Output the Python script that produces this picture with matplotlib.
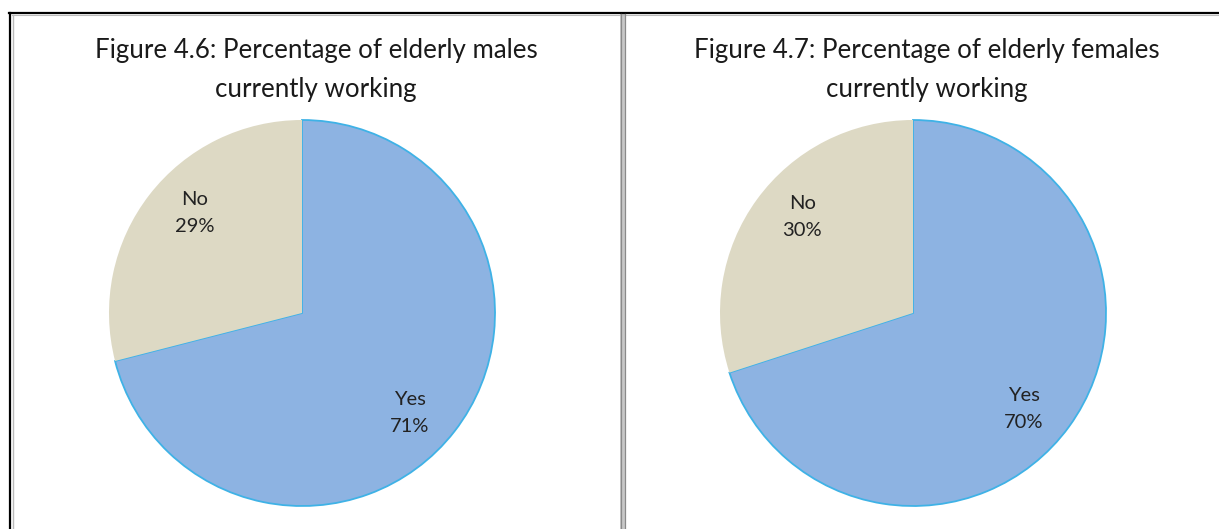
import matplotlib.pyplot as plt
import numpy as np
from matplotlib.lines import Line2D
from matplotlib.patches import Rectangle

# Working status of the elderly, by sex
categories = ['Yes', 'No']
males_pct = [71, 29]
females_pct = [70, 30]
titles = ['Figure 4.6: Percentage of elderly males\ncurrently working',
          'Figure 4.7: Percentage of elderly females\ncurrently working']

W, H = 1219, 529
plt.rcParams['font.family'] = ['Lato', 'DejaVu Sans']

fig = plt.figure(figsize=(W / 100, H / 100), dpi=100)


def px_axes(x0, y0, w, h):
    # axes from pixel box measured from the top-left corner
    return fig.add_axes([x0 / W, 1 - (y0 + h) / H, w / W, h / H])


def draw_pie(ax, values):
    wedges, _ = ax.pie(values, startangle=90, counterclock=False,
                       colors=['#8DB3E2', '#DDD9C4'], radius=1)
    wedges[0].set_edgecolor('#3FB2E6')
    wedges[0].set_linewidth(1.3)
    wedges[1].set_linewidth(0)
    for w, cat, v in zip(wedges, categories, values):
        # label sits a little clockwise of the slice middle
        mid = np.deg2rad((w.theta1 + w.theta2) / 2 - 5)
        ax.text(0.76 * np.cos(mid), 0.76 * np.sin(mid), f'{cat}\n{v}%',
                ha='center', va='center', fontsize=14.5, color='#222222',
                linespacing=1.7)
    ax.set_xlim(-1.01, 1.01)
    ax.set_ylim(-1.01, 1.01)
    ax.set_aspect('equal')
    ax.axis('off')


for cx, vals, title, tx in [(302, males_pct, titles[0], 316),
                            (913, females_pct, titles[1], 927)]:
    r = 193
    ax = px_axes(cx - r * 1.01, 313 - r * 1.01, 2 * r * 1.01, 2 * r * 1.01)
    draw_pie(ax, vals)
    fig.text(tx / W, 1 - 70 / H, title, ha='center', va='center',
             fontsize=18.6, color='#1a1a1a', linespacing=1.67)


# panel frame: black outer edges, grey divider between the two charts
def fy(y):
    return 1 - y / H


fig.add_artist(Line2D([9 / W, 1], [fy(13), fy(13)], color='black', lw=1.6))
fig.add_artist(Line2D([10 / W, 10 / W], [fy(13), 0], color='black', lw=1.6))
fig.add_artist(Line2D([12.5 / W] * 2, [fy(14.5), 0], color='#bbbbbb', lw=1))
fig.add_artist(Line2D([12 / W, 1], [fy(15), fy(15)], color='#bbbbbb', lw=0.8))
fig.add_artist(Rectangle((620 / W, 0), 5 / W, fy(14), transform=fig.transFigure,
                         facecolor='#c8c8c8', edgecolor='none'))
fig.add_artist(Line2D([620.5 / W] * 2, [fy(14), 0], color='#8a8a8a', lw=0.9))
fig.add_artist(Line2D([624.5 / W] * 2, [fy(14), 0], color='#8a8a8a', lw=0.9))

fig.savefig('out.png', dpi=100, facecolor='white')
